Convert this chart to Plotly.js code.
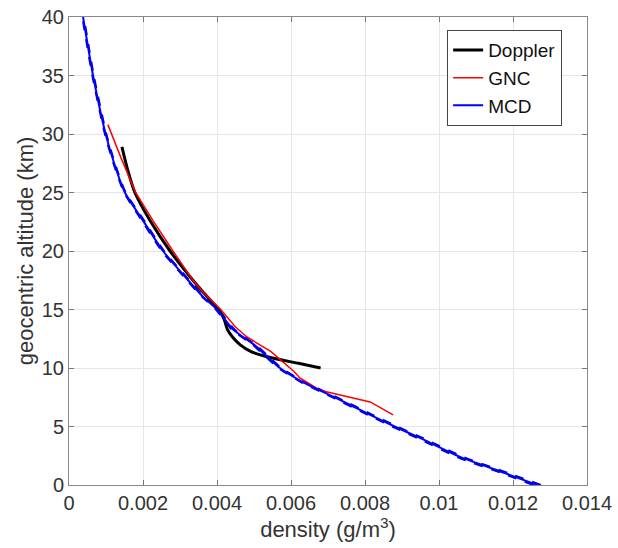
<!DOCTYPE html>
<html>
<head>
<meta charset="utf-8">
<script src="https://cdn.plot.ly/plotly-3.0.1.min.js"></script>
<style>html,body{margin:0;padding:0;background:#fff;}#chart{width:618px;height:548px;}</style>
</head>
<body>
<div id="chart"></div>
<script>
// Doppler-derived density profile
var dopplerAlt = [28.9, 27.0, 25.0, 22.6, 20.0, 17.5, 16.5, 15.0, 14.1, 13.3, 12.6, 12.0, 11.4, 10.85, 10.4, 10.0];
var dopplerDen = [0.00143, 0.00158, 0.00178, 0.00219, 0.00273, 0.00335, 0.00362, 0.00405, 0.00420, 0.00428, 0.00443, 0.00462, 0.00492, 0.00550, 0.00620, 0.00680];
// GNC profile
var gncAlt = [30.8, 28.0, 25.0, 22.6, 20.0, 17.5, 16.5, 15.0, 13.5, 12.65, 11.4, 10.5, 9.7, 9.15, 8.1, 7.1, 6.0];
var gncDen = [0.00105, 0.00140, 0.00180, 0.00227, 0.00281, 0.00335, 0.00362, 0.00410, 0.00450, 0.00481, 0.00546, 0.00580, 0.00608, 0.00624, 0.00678, 0.00814, 0.00876];
// MCD profile (nominal and bounds)
var mcdAlt = [0, 1.0, 2.4, 4.0, 5.0, 6.0, 7.4, 8.8, 10.0, 11.0, 12.0, 13.25, 15.0, 16.1, 17.5, 20.0, 22.6, 25.0, 27.5, 30.0, 35.0, 40.0];
var mcdDen = [0.01265, 0.01180, 0.01057, 0.00950, 0.00880, 0.00814, 0.00724, 0.00632, 0.00570, 0.00535, 0.00500, 0.00445, 0.00400, 0.00362, 0.00322, 0.00254, 0.00200, 0.00151, 0.00122, 0.00099, 0.00065, 0.00038];
var mcdLo  = [0.01255, 0.01171, 0.01049, 0.00943, 0.00873, 0.00808, 0.00718, 0.00627, 0.00566, 0.00531, 0.00496, 0.00441, 0.00397, 0.00359, 0.00319, 0.00251, 0.00197, 0.00149, 0.00120, 0.00097, 0.00063, 0.00036];
var mcdHi  = [0.01275, 0.01189, 0.01065, 0.00957, 0.00887, 0.00820, 0.00730, 0.00637, 0.00574, 0.00539, 0.00504, 0.00449, 0.00403, 0.00365, 0.00325, 0.00257, 0.00203, 0.00153, 0.00124, 0.00101, 0.00067, 0.00040];

var xTickVals = [0, 0.002, 0.004, 0.006, 0.008, 0.01, 0.012, 0.014];
var xTickText = ['0', '0.002', '0.004', '0.006', '0.008', '0.01', '0.012', '0.014'];
var yTickVals = [0, 5, 10, 15, 20, 25, 30, 35, 40];

var traces = [
  {x: mcdLo, y: mcdAlt, mode: 'lines', line: {color: '#0000cc', width: 2, dash: 'dash', shape: 'spline', smoothing: 0.6}, showlegend: false, hoverinfo: 'skip'},
  {x: mcdHi, y: mcdAlt, mode: 'lines', line: {color: '#0000cc', width: 2, dash: 'dash', shape: 'spline', smoothing: 0.6}, showlegend: false, hoverinfo: 'skip'},
  {x: dopplerDen, y: dopplerAlt, mode: 'lines', name: 'Doppler', line: {color: '#000000', width: 3, shape: 'spline', smoothing: 0.6}},
  {x: gncDen, y: gncAlt, mode: 'lines', name: 'GNC', line: {color: '#ff0000', width: 1.5}},
  {x: mcdDen, y: mcdAlt, mode: 'lines', name: 'MCD', line: {color: '#0000ff', width: 2, shape: 'spline', smoothing: 0.6}}
];
var layout = {
  width: 618, height: 548,
  margin: {l: 69, r: 31, t: 17, b: 63},
  paper_bgcolor: '#fff', plot_bgcolor: '#fff',
  font: {family: 'Liberation Sans, Arial, sans-serif', size: 20, color: '#333'},
  showlegend: true,
  legend: {x: 0.73, y: 0.972, xanchor: 'left', yanchor: 'top', bgcolor: '#fff', bordercolor: '#444', borderwidth: 1, font: {size: 19, color: '#111'}, tracegroupgap: 0, itemwidth: 30},
  xaxis: {
    range: [0, 0.014], tickvals: xTickVals, ticktext: xTickText,
    ticks: 'inside', ticklen: 5, tickcolor: '#777', showline: true, linecolor: '#888', linewidth: 1, mirror: 'ticks',
    showgrid: true, gridcolor: '#e6e6e6', zeroline: false, tickfont: {size: 20, color: '#333'},
    title: {text: 'density (g/m<sup>3</sup>)', font: {size: 22, color: '#333'}, standoff: 2}
  },
  yaxis: {
    range: [0, 40], tickvals: yTickVals,
    ticks: 'inside', ticklen: 5, tickcolor: '#777', showline: true, linecolor: '#888', linewidth: 1, mirror: 'ticks',
    showgrid: true, gridcolor: '#e6e6e6', zeroline: false, tickfont: {size: 20, color: '#333'},
    title: {text: 'geocentric altitude (km)', font: {size: 22, color: '#333'}, standoff: 2}
  }
};
Plotly.newPlot('chart', traces, layout, {displayModeBar: false, staticPlot: true});
</script>
</body>
</html>
